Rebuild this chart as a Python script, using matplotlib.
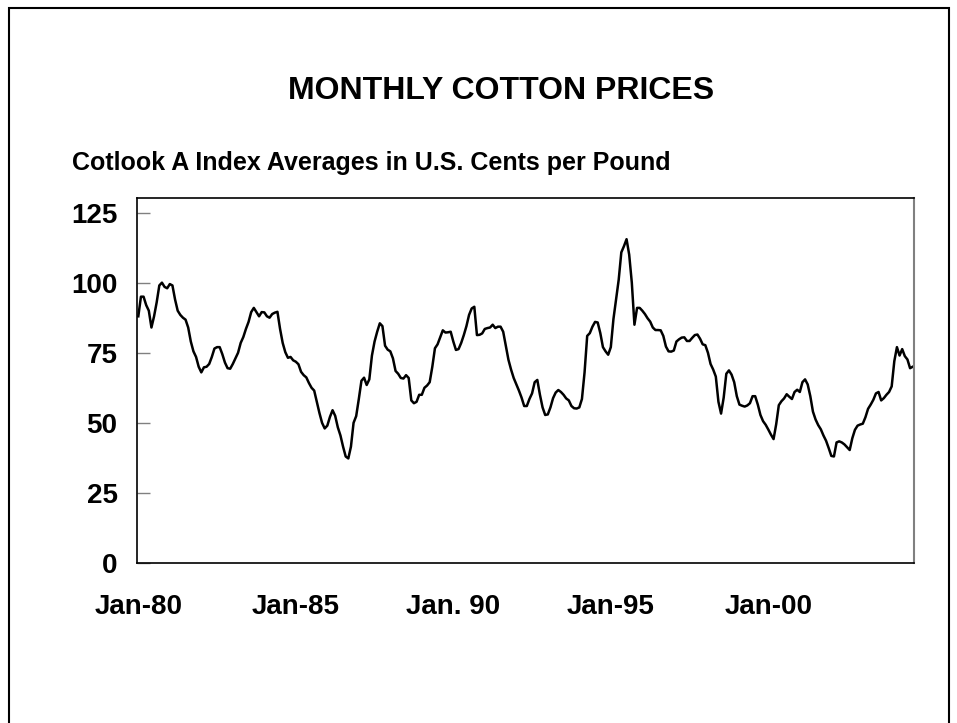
import matplotlib
matplotlib.use('Agg')
import matplotlib.pyplot as plt
from matplotlib.patches import Rectangle

plt.rcParams['font.family'] = ['Liberation Sans', 'DejaVu Sans']

# Cotlook A index, monthly averages, Jan 1980 - Aug 2004 (US cents / lb)
y1980 = [88, 95, 95, 92, 90, 84, 88, 93, 99, 100, 98.5, 98]
y1981 = [99.5, 99, 94, 90, 88.5, 87.5, 86.8, 84, 79, 75.5, 73.5, 70]
y1982 = [68, 69.8, 70, 71, 73.5, 76.5, 77, 77, 74.5, 71.5, 69.5, 69.3]
y1983 = [71, 73, 75, 78.5, 80.6, 83.5, 86, 89.5, 91, 89.5, 88, 89.5]
y1984 = [89.4, 88, 87.5, 88.8, 89.3, 89.6, 83.5, 78.5, 75.2, 73.2, 73.5, 72.3]
y1985 = [71.8, 70.9, 68.2, 67, 66.2, 64.2, 62.5, 61.5, 57.5, 53.5, 50, 48]
y1986 = [49, 52.1, 54.5, 52.5, 48.4, 45.5, 41.5, 38, 37.3, 41.5, 50, 52.4]
y1987 = [58.5, 65, 66.1, 63.5, 65.5, 74, 79, 82.5, 85.5, 84.5, 77.5, 76.1]
y1988 = [75.5, 73, 68.5, 67.5, 66, 65.8, 67, 66, 58, 57, 57.5, 60]
y1989 = [60, 62.5, 63.3, 64.5, 70, 76.6, 78, 80.5, 83, 82.2, 82.3, 82.5]
y1990 = [79, 76, 76.3, 78.5, 81.3, 84.5, 88.5, 90.8, 91.4, 81.3, 81.4, 81.9]
y1991 = [83.5, 83.8, 84, 85, 83.8, 84.3, 84.3, 82.5, 77.5, 72.5, 69, 66]
y1992 = [63.8, 61.5, 59, 56, 56, 58.5, 60.5, 64.5, 65.3, 60, 55.5, 52.8]
y1993 = [53, 55.5, 58.8, 60.8, 61.7, 61, 60, 58.7, 58, 56, 55.2, 55.1]
y1994 = [55.5, 58.5, 68, 81, 82, 84.3, 86, 85.8, 82, 77, 75.5, 74.3]
y1995 = [77, 87, 94, 101, 110.8, 113, 115.5, 110, 100, 85, 91, 91]
y1996 = [90, 88.8, 87.3, 86.1, 84, 83.1, 83.1, 83, 81, 77.2, 75.5, 75.4]
y1997 = [75.8, 79, 79.8, 80.4, 80.5, 79.2, 79.2, 80.3, 81.3, 81.5, 80, 78]
y1998 = [77.7, 75, 71, 69, 66.5, 57.5, 53.3, 59, 67.5, 68.7, 67.2, 64.5]
y1999 = [59.5, 56.5, 56.1, 55.8, 56.2, 57, 59.5, 59.5, 56.5, 52.8, 50.6, 49.3]
y2000 = [47.6, 45.8, 44.2, 49.5, 56.3, 57.7, 58.7, 60.2, 59.3, 58.5, 61, 61.8]
y2001 = [61, 64.5, 65.5, 63.7, 59.5, 54, 51.2, 49.2, 47.7, 45.5, 43.6, 41]
y2002 = [38.2, 38, 43, 43.4, 43, 42.3, 41.3, 40.3, 44.5, 47.5, 49, 49.4]
y2003 = [49.7, 52, 55, 56.5, 58.2, 60.5, 61, 58, 58.8, 60, 61, 63]
y2004 = [72, 77, 74, 76.3, 73.8, 72.6, 69.5, 70]

prices = (y1980 + y1981 + y1982 + y1983 + y1984 + y1985 + y1986 + y1987 + y1988
          + y1989 + y1990 + y1991 + y1992 + y1993 + y1994 + y1995 + y1996 + y1997
          + y1998 + y1999 + y2000 + y2001 + y2002 + y2003 + y2004)
months = list(range(len(prices)))

xtick_pos = [0, 60, 120, 180, 240]
xtick_labels = ['Jan-80', 'Jan-85', 'Jan. 90', 'Jan-95', 'Jan-00']
ytick_pos = [0, 25, 50, 75, 100, 125]

fig = plt.figure(figsize=(9.57, 7.23), dpi=100)
ax = fig.add_axes([137 / 957, 1 - 563 / 723, (914 - 137) / 957, (563 - 198) / 723])

ax.plot(months, prices, color='black', linewidth=1.8)

ax.set_xlim(-0.5, 295.5)
ax.set_ylim(0, 130.2)

ax.set_xticks(xtick_pos)
ax.set_xticklabels(xtick_labels, fontsize=20, fontweight='bold')
ax.tick_params(axis='x', length=0, pad=22)

ax.set_yticks(ytick_pos)
ax.set_yticklabels([str(v) for v in ytick_pos], fontsize=20, fontweight='bold')
ax.tick_params(axis='y', direction='in', length=9, width=1, color='#808080', pad=14)

for side in ['left', 'bottom', 'top']:
    ax.spines[side].set_color('black')
    ax.spines[side].set_linewidth(1.2)
ax.spines['right'].set_color('#808080')
ax.spines['right'].set_linewidth(1.5)

fig.text(501 / 957, 1 - 99 / 723, 'MONTHLY COTTON PRICES', ha='center', va='baseline',
         fontsize=23, fontweight='bold')
fig.text(72 / 957, 1 - 170 / 723, 'Cotlook A Index Averages in U.S. Cents per Pound',
         ha='left', va='baseline', fontsize=18, fontweight='bold')

# outer frame round the slide, bottom edge runs off the page
fig.patches.append(Rectangle((8.5 / 957, -0.05), (948.5 - 8.5) / 957, 1.05 - 8.5 / 723,
                             transform=fig.transFigure, fill=False,
                             edgecolor='black', linewidth=1.5))

fig.savefig('out.png', dpi=100)
